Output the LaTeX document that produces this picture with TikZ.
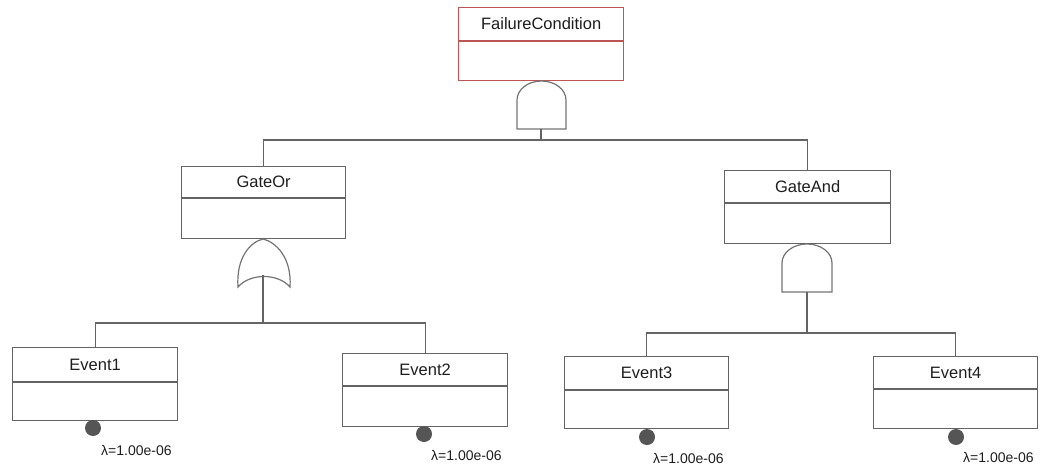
\documentclass[tikz,border=0pt]{standalone}
\usepackage{fontspec}
\setmainfont{Liberation Sans}
\definecolor{lnc}{RGB}{100,100,100}
\definecolor{gatec}{RGB}{115,115,115}
\definecolor{redc}{RGB}{190,85,85}
\definecolor{dotc}{RGB}{85,85,85}
\definecolor{txtc}{RGB}{30,30,30}
\tikzset{
  boxst/.style={draw=lnc, line width=1.3pt, inner sep=0pt, fill=white},
  conn/.style={draw=lnc, line width=1.3pt},
  gatest/.style={draw=gatec, line width=1.2pt},
  title/.style={font=\fontsize{16.5}{19}\selectfont, text=txtc, inner sep=0pt},
  lam/.style={font=\fontsize{14}{16}\selectfont, text=txtc, inner sep=0pt, anchor=west},
  dotst/.style={circle, fill=dotc, minimum size=16pt, inner sep=0pt},
}
% name, x, y, width, height, divider offset, label, colour
\newcommand\ftnode[8]{%
  \node[boxst, draw=#8, minimum width=#4, minimum height=#5, anchor=north west] (#1) at (#2,#3) {};
  \draw[draw=#8, line width=1.3pt] (#1.north west) ++(0,#6) -- ++(#4,0);
  \node[title] (#1-t) at ([yshift=-#6/2 pt]#1.north) {#7};
}
\begin{document}
\begin{tikzpicture}[x=1pt, y=-1pt]
\useasboundingbox (0,0) rectangle (1040,465);

% boxes
\ftnode{fc}{458}{7}{165}{73}{34}{FailureCondition}{redc}
\ftnode{gor}{181}{166}{164}{72}{32}{GateOr}{lnc}
\ftnode{gand}{724}{170}{166}{73}{33}{GateAnd}{lnc}
\ftnode{e1}{12}{347}{165}{73}{35}{Event1}{lnc}
\ftnode{e2}{342}{353}{165}{73}{33}{Event2}{lnc}
\ftnode{e3}{564}{356}{164}{72}{34}{Event3}{lnc}
\ftnode{e4}{873}{356}{164}{72}{33}{Event4}{lnc}

% gates
\draw[gatest] (517,129) -- (517,100) arc[start angle=180, end angle=360, x radius=24.5, y radius=19] -- (566,129) -- cycle;
\coordinate (g0) at (541,129);
\draw[gatest] (238,287) .. controls (236,258) and (250,242) .. (263,239)
  .. controls (276,242) and (292,258) .. (290,287)
  .. controls (278,273) and (250,273) .. (238,287) -- cycle;
\coordinate (g1) at (263,275);
\draw[gatest] (782,292) -- (782,263) arc[start angle=180, end angle=360, x radius=25, y radius=19] -- (832,292) -- cycle;
\coordinate (g2) at (807,292);

% junctions
\coordinate (j0) at (541,140);
\coordinate (j1) at (263,323);
\coordinate (j2) at (807,333);

% connectors
\draw[conn] (g0) -- (j0);
\draw[conn] (j0) -| (gor.north);
\draw[conn] (j0) -| (gand.north);
\draw[conn] (g1) -- (j1);
\draw[conn] (j1) -| (e1.north);
\draw[conn] (j1) -| (e2.north);
\draw[conn] (g2) -- (j2);
\draw[conn] (j2) -| (e3.north);
\draw[conn] (j2) -| (e4.north);

% basic event dots and rates
\node[dotst] (d1) at (93,428) {};
\node[dotst] (d2) at (424,434) {};
\node[dotst] (d3) at (647,437) {};
\node[dotst] (d4) at (956,437) {};
\node[lam] (l1) at (101,450) {λ=1.00e-06};
\node[lam] (l2) at (431,455) {λ=1.00e-06};
\node[lam] (l3) at (653,458) {λ=1.00e-06};
\node[lam] (l4) at (963,457) {λ=1.00e-06};
\end{tikzpicture}
\end{document}
